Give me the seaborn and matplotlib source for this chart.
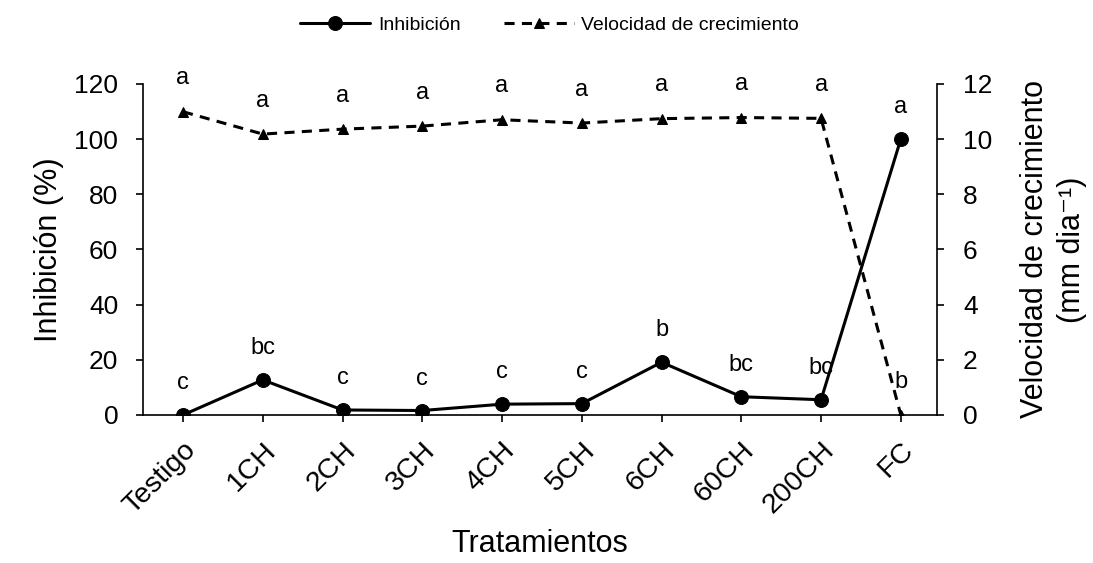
import numpy as np
import pandas as pd
import matplotlib
matplotlib.use("Agg")
import matplotlib.pyplot as plt
import seaborn as sns

tratamientos = ["Testigo", "1CH", "2CH", "3CH", "4CH", "5CH", "6CH", "60CH", "200CH", "FC"]
inhibicion = [0.0, 12.7, 1.8, 1.6, 3.9, 4.1, 19.1, 6.6, 5.5, 100.0]
velocidad = [10.99, 10.18, 10.36, 10.47, 10.70, 10.58, 10.74, 10.78, 10.75, 0.0]
letras_inh = ["c", "bc", "c", "c", "c", "c", "b", "bc", "bc", "a"]
letras_vel = ["a", "a", "a", "a", "a", "a", "a", "a", "a", "b"]

sns.set_theme(style="ticks")
plt.rcParams["font.family"] = ["Liberation Sans", "DejaVu Sans"]
plt.rcParams["text.color"] = "black"
plt.rcParams["axes.labelcolor"] = "black"

df = pd.DataFrame({"Tratamiento": tratamientos, "Inhibicion": inhibicion, "Velocidad": velocidad})

fig = plt.figure(figsize=(10.93, 5.63), dpi=100)
ax = fig.add_axes([0.1310, 0.263, 0.7260, 0.588])
ax2 = ax.twinx()

sns.lineplot(data=df, x="Tratamiento", y="Inhibicion", ax=ax, color="black", lw=2.2,
             marker="o", markersize=10, markeredgecolor="black", sort=False, label="Inhibición",
             legend=False)
sns.lineplot(data=df, x="Tratamiento", y="Velocidad", ax=ax2, color="black", lw=2.2,
             linestyle=(0, (3.3, 2.4)), marker="^", markersize=7, markeredgecolor="black",
             sort=False, label="Velocidad de crecimiento", legend=False)

ax.set_ylim(0, 120)
ax.set_yticks(np.arange(0, 121, 20))
ax2.set_ylim(0, 12)
ax2.set_yticks(np.arange(0, 13, 2))
ax.set_xlim(-0.5, 9.45)

for i, (v, t) in enumerate(zip(inhibicion, letras_inh)):
    ax.annotate(t, (i, v), xytext=(0, 23), textcoords="offset points", ha="center", va="center",
                fontsize=17, color="black")
for i, (v, t) in enumerate(zip(velocidad, letras_vel)):
    ax2.annotate(t, (i, v), xytext=(0, 24), textcoords="offset points", ha="center", va="center",
                 fontsize=17, color="black")

ax.set_xlabel("Tratamientos", fontsize=22, labelpad=7)
ax.set_ylabel("Inhibición (%)", fontsize=22, labelpad=7)
ax2.set_ylabel("Velocidad de crecimiento\n(mm dia⁻¹)", fontsize=22, labelpad=20, linespacing=1.3)

ax.tick_params(axis="y", labelsize=19, direction="out", length=5, width=1.2, colors="black", pad=13)
ax.tick_params(axis="x", labelsize=20.5, direction="out", length=5, width=1.2, colors="black", pad=11)
ax2.tick_params(axis="y", labelsize=19, direction="out", length=5, width=1.2, colors="black", pad=14)
for lab in ax.get_xticklabels():
    lab.set_rotation(45)
    lab.set_ha("right")
    lab.set_rotation_mode("anchor")

for a in (ax, ax2):
    a.spines["top"].set_visible(False)
    for s in ("left", "right", "bottom"):
        a.spines[s].set_linewidth(1.2)
        a.spines[s].set_color("black")
ax.spines["right"].set_visible(False)
ax2.spines["left"].set_visible(False)
ax2.spines["bottom"].set_visible(False)

h1, l1 = ax.get_legend_handles_labels()
h2, l2 = ax2.get_legend_handles_labels()
fig.legend(h1 + h2, l1 + l2, loc="center", bbox_to_anchor=(0.503, 0.956), ncol=2,
           frameon=False, fontsize=14, handlelength=3.6, handletextpad=0.4, columnspacing=2.2)

fig.savefig("out.png", dpi=100)
